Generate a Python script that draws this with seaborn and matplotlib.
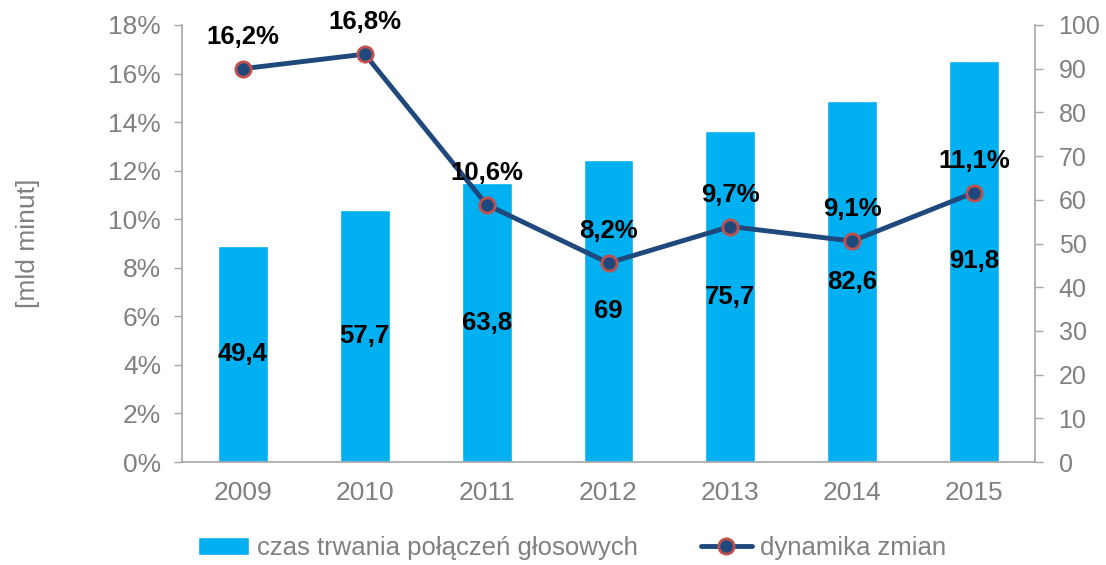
import numpy as np
import pandas as pd
import matplotlib
matplotlib.use("Agg")
import matplotlib.pyplot as plt
from matplotlib.ticker import FuncFormatter, MultipleLocator
import seaborn as sns

# ---- data ----
years = ["2009", "2010", "2011", "2012", "2013", "2014", "2015"]
minutes = [49.4, 57.7, 63.8, 69, 75.7, 82.6, 91.8]          # [mld minut], right axis
growth = [16.2, 16.8, 10.6, 8.2, 9.7, 9.1, 11.1]            # %, left axis
bar_label_name = "czas trwania połączeń głosowych"
line_label_name = "dynamika zmian"
ylabel = "[mld minut]"

sns.set_theme(style="white")
plt.rcParams["font.family"] = ["Liberation Sans", "DejaVu Sans"]

BAR = "#00B0F0"
LINE = "#1F497D"
EDGE = "#C0504D"
GRAY = "#808080"
SPINE = "#A6A6A6"

df = pd.DataFrame({"year": years, "minutes": minutes, "growth": growth,
                   "pos": np.arange(len(years))})

fig, ax = plt.subplots(figsize=(11.06, 5.65), dpi=100)
fig.subplots_adjust(left=182/1106, right=1035/1106, top=1-25/565, bottom=1-462/565)
ax2 = ax.twinx()

# bars on the right axis
sns.barplot(data=df, x="pos", y="minutes", ax=ax2, color=BAR, width=0.41,
            saturation=1, label=bar_label_name, native_scale=True)
bar_texts = [f"{v:g}".replace(".", ",") for v in minutes]
ax2.bar_label(ax2.containers[0], labels=bar_texts, label_type="center",
              fontsize=18.5, fontweight="bold", color="black")

# line on the left axis, drawn above bars
ax.set_zorder(ax2.get_zorder() + 1)
ax.patch.set_visible(False)
sns.lineplot(data=df, x="pos", y="growth", ax=ax, color=LINE, linewidth=3.5,
             marker="o", markersize=11, markerfacecolor=LINE,
             markeredgecolor=EDGE, markeredgewidth=2, label=line_label_name)
for x, v in zip(df["pos"], growth):
    ax.annotate(f"{v:.1f}%".replace(".", ","), (x, v), xytext=(0, 23),
                textcoords="offset points", ha="center", va="center",
                fontsize=18.5, fontweight="bold", color="black")

# axes formatting
ax.set_xlim(-0.5, len(years) - 0.5)
ax2.set_xlim(-0.5, len(years) - 0.5)
ax.set_ylim(0, 18)
ax2.set_ylim(0, 100)
ax.yaxis.set_major_locator(MultipleLocator(2))
ax.yaxis.set_major_formatter(FuncFormatter(lambda v, p: f"{v:.0f}%"))
ax2.yaxis.set_major_locator(MultipleLocator(10))

ax.set_xticks(df["pos"])
ax.set_xticklabels(years)
ax.set_xticks(np.arange(-0.5, len(years), 1), minor=True)
ax.tick_params(axis="x", which="major", length=0, pad=14, labelsize=19, labelcolor=GRAY)
ax.tick_params(axis="x", which="minor", length=6, width=1, color=SPINE, direction="out")
ax.tick_params(axis="y", length=6, width=1, color=SPINE, direction="out", pad=9,
               labelsize=19, labelcolor=GRAY, left=True)
ax2.tick_params(axis="y", length=6, width=1, color=SPINE, direction="out", pad=11,
                labelsize=18, labelcolor=GRAY, right=True)
ax.set_xlabel("")
ax2.set_xlabel("")
ax2.set_ylabel("")
ax.set_ylabel(ylabel, fontsize=19, color=GRAY)
ax.yaxis.set_label_coords(-0.166, 0.5)

for a in (ax, ax2):
    a.spines["top"].set_visible(False)
    for s in ("left", "right", "bottom"):
        a.spines[s].set_color(SPINE)
        a.spines[s].set_linewidth(1.2)
ax.spines["right"].set_visible(False)
ax2.spines["left"].set_visible(False)
ax2.spines["bottom"].set_visible(False)

# legend
h1, l1 = ax2.get_legend_handles_labels()
h2, l2 = ax.get_legend_handles_labels()
for a in (ax, ax2):
    if a.get_legend():
        a.get_legend().remove()
fig.legend(h1 + h2, l1 + l2, loc="center", bbox_to_anchor=(0.517, 0.03), ncol=2,
           frameon=False, fontsize=18.5, labelcolor=GRAY, handlelength=2.0,
           handletextpad=0.3, columnspacing=2.45)

fig.savefig("out.png", dpi=100)
